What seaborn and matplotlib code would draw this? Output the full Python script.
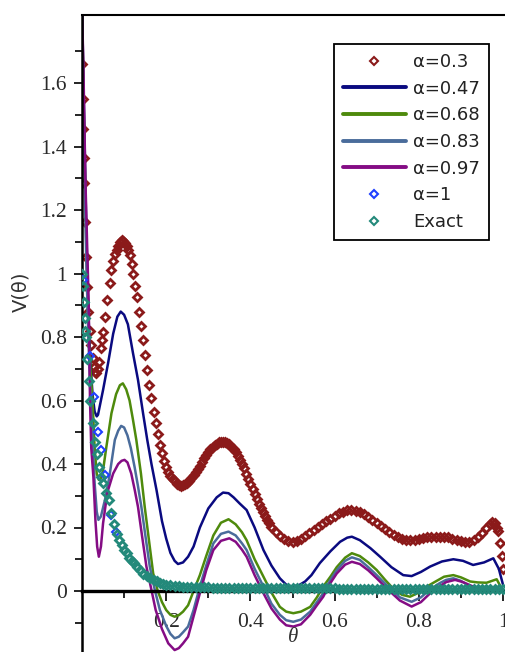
import matplotlib
matplotlib.use("Agg")
import numpy as np
import pandas as pd
import seaborn as sns
import matplotlib.pyplot as plt
from matplotlib.lines import Line2D
from matplotlib.ticker import FixedLocator, FuncFormatter

sns.set_style("white")
plt.rcParams["font.family"] = ["DejaVu Sans"]

# ---------------- data ----------------
labels = ["α=0.3", "α=0.47", "α=0.68", "α=0.83", "α=0.97", "α=1", "Exact"]
colors = ["#8B1A1A", "#0A0A80", "#4E8A0C", "#4A6C9B", "#840C84", "#1F3FFF", "#23897A"]

# alpha = 0.3 (markers)
a03_x = [0.001, 0.002, 0.003, 0.004, 0.005, 0.007, 0.009, 0.011, 0.014, 0.018, 0.022, 0.026,
         0.029, 0.031, 0.034, 0.037, 0.04, 0.044, 0.048, 0.051, 0.055, 0.06, 0.066, 0.07,
         0.074, 0.078, 0.082, 0.086, 0.09, 0.094, 0.098, 0.102, 0.106, 0.11, 0.114, 0.118,
         0.122, 0.127, 0.131, 0.135, 0.14, 0.145, 0.15, 0.155, 0.16, 0.165, 0.17, 0.175,
         0.18, 0.185, 0.19, 0.195, 0.2, 0.205, 0.21, 0.215, 0.22, 0.225, 0.23, 0.235, 0.24,
         0.245, 0.25, 0.255, 0.26, 0.265, 0.27, 0.275, 0.28, 0.285, 0.29, 0.295, 0.3, 0.305,
         0.31, 0.315, 0.32, 0.325, 0.33, 0.335, 0.34, 0.345, 0.35, 0.355, 0.36, 0.365, 0.37,
         0.375, 0.38, 0.385, 0.39, 0.395, 0.4, 0.405, 0.41, 0.415, 0.42, 0.425, 0.43, 0.435,
         0.44, 0.445, 0.45, 0.46, 0.47, 0.48, 0.49, 0.5, 0.51, 0.52, 0.53, 0.54, 0.55, 0.56,
         0.57, 0.58, 0.59, 0.6, 0.61, 0.62, 0.63, 0.64, 0.65, 0.66, 0.67, 0.68, 0.69, 0.7,
         0.71, 0.72, 0.73, 0.74, 0.75, 0.76, 0.77, 0.78, 0.79, 0.8, 0.81, 0.82, 0.83, 0.84,
         0.85, 0.86, 0.87, 0.88, 0.89, 0.9, 0.91, 0.92, 0.93, 0.94, 0.95, 0.96, 0.97, 0.975,
         0.98, 0.985, 0.989, 0.993, 0.997, 1.0]
a03_y = [1.66, 1.55, 1.455, 1.364, 1.285, 1.162, 1.052, 0.957, 0.88, 0.82, 0.775, 0.735,
         0.705, 0.69, 0.688, 0.7, 0.72, 0.764, 0.79, 0.817, 0.864, 0.917, 0.97, 1.01,
         1.04, 1.06, 1.074, 1.088, 1.1, 1.105, 1.103, 1.097, 1.087, 1.074, 1.058, 1.03,
         1.0, 0.96, 0.927, 0.88, 0.835, 0.79, 0.743, 0.696, 0.65, 0.607, 0.565, 0.528,
         0.494, 0.46, 0.434, 0.41, 0.39, 0.375, 0.362, 0.352, 0.345, 0.338, 0.334, 0.332, 0.333,
         0.336, 0.34, 0.347, 0.355, 0.365, 0.375, 0.385, 0.395, 0.407, 0.418, 0.428, 0.438, 0.446,
         0.453, 0.459, 0.464, 0.468, 0.47, 0.47, 0.469, 0.466, 0.462, 0.455, 0.447, 0.437, 0.426,
         0.413, 0.4, 0.386, 0.37, 0.353, 0.336, 0.32, 0.304, 0.29, 0.275, 0.261, 0.248, 0.236,
         0.224, 0.213, 0.203, 0.186, 0.172, 0.163, 0.157, 0.155, 0.157, 0.163, 0.172, 0.183, 0.193, 0.203,
         0.212, 0.22, 0.228, 0.237, 0.245, 0.25, 0.254, 0.255, 0.253, 0.248, 0.241, 0.233, 0.225, 0.215,
         0.205, 0.195, 0.185, 0.176, 0.17, 0.165, 0.162, 0.161, 0.162, 0.165, 0.168, 0.17, 0.171, 0.171,
         0.171, 0.171, 0.169, 0.165, 0.16, 0.156, 0.154, 0.155, 0.16, 0.17, 0.183, 0.198, 0.212, 0.218,
         0.214, 0.2, 0.19, 0.15, 0.11, 0.07]

# alpha = 0.47 (line)
a047_x = [0, 0.005, 0.01, 0.015, 0.02, 0.025, 0.03, 0.035, 0.038, 0.05, 0.062, 0.074, 0.084,
          0.092, 0.1, 0.109, 0.121, 0.133, 0.145, 0.155, 0.165, 0.177, 0.19, 0.2, 0.21, 0.22,
          0.228, 0.24, 0.252, 0.265, 0.28, 0.3, 0.32, 0.335, 0.348, 0.36, 0.375, 0.391, 0.41,
          0.431, 0.45, 0.47, 0.485, 0.498, 0.515, 0.53, 0.545, 0.565, 0.59, 0.613, 0.63, 0.641,
          0.66, 0.685, 0.708, 0.735, 0.763, 0.783, 0.805, 0.827, 0.855, 0.882, 0.905, 0.929,
          0.955, 0.977, 0.99, 1.0]
a047_y = [1.85, 1.5, 1.15, 0.88, 0.72, 0.62, 0.565, 0.55, 0.555, 0.633, 0.718, 0.81, 0.864,
          0.88, 0.87, 0.84, 0.75, 0.665, 0.56, 0.476, 0.4, 0.318, 0.22, 0.165, 0.12, 0.095,
          0.085, 0.09, 0.108, 0.14, 0.2, 0.26, 0.295, 0.31, 0.308, 0.295, 0.275, 0.255, 0.2,
          0.129, 0.08, 0.04, 0.02, 0.014, 0.018, 0.03, 0.05, 0.088, 0.125, 0.155, 0.168, 0.171,
          0.16, 0.135, 0.108, 0.075, 0.05, 0.047, 0.06, 0.077, 0.093, 0.1, 0.095, 0.082,
          0.09, 0.103, 0.07, 0.02]

# alpha = 0.68 (line)
a068_x = [0, 0.005, 0.01, 0.015, 0.02, 0.025, 0.03, 0.035, 0.04, 0.045, 0.05, 0.058, 0.07,
          0.081, 0.09, 0.097, 0.105, 0.113, 0.121, 0.129, 0.14, 0.149, 0.16, 0.169, 0.18,
          0.19, 0.2, 0.21, 0.22, 0.23, 0.24, 0.252, 0.265, 0.28, 0.295, 0.312, 0.33, 0.348,
          0.365, 0.38, 0.391, 0.41, 0.431, 0.45, 0.47, 0.485, 0.502, 0.52, 0.542, 0.558,
          0.573, 0.59, 0.605, 0.625, 0.641, 0.66, 0.68, 0.7, 0.72, 0.739, 0.76, 0.779, 0.8,
          0.819, 0.84, 0.86, 0.882, 0.9, 0.922, 0.94, 0.961, 0.985, 1.0]
a068_y = [1.85, 1.45, 1.1, 0.85, 0.7, 0.6, 0.45, 0.37, 0.35, 0.355, 0.38, 0.455, 0.56,
          0.62, 0.648, 0.654, 0.635, 0.6, 0.54, 0.476, 0.37, 0.265, 0.15, 0.056, 0.0,
          -0.035, -0.06, -0.075, -0.081, -0.076, -0.065, -0.045, 0.0, 0.05, 0.11, 0.175, 0.215, 0.226,
          0.21, 0.185, 0.16, 0.1, 0.045, -0.005, -0.05, -0.065, -0.07, -0.065, -0.05, -0.02,
          0.014, 0.045, 0.075, 0.105, 0.119, 0.11, 0.09, 0.066, 0.035, 0.008, -0.012, -0.018, -0.005,
          0.014, 0.03, 0.045, 0.05, 0.043, 0.03, 0.027, 0.026, 0.037, 0.0]

# alpha = 0.83 (line)
a083_x = [0, 0.005, 0.01, 0.015, 0.02, 0.025, 0.03, 0.035, 0.039, 0.045, 0.055, 0.065, 0.078,
          0.086, 0.093, 0.1, 0.108, 0.116, 0.125, 0.133, 0.141, 0.151, 0.161, 0.173, 0.185,
          0.2, 0.21, 0.22, 0.23, 0.24, 0.252, 0.265, 0.28, 0.295, 0.312, 0.33, 0.348, 0.365,
          0.38, 0.391, 0.41, 0.431, 0.45, 0.47, 0.485, 0.502, 0.52, 0.542, 0.558, 0.573, 0.59,
          0.605, 0.625, 0.641, 0.66, 0.68, 0.7, 0.715, 0.732, 0.755, 0.783, 0.805, 0.827, 0.85,
          0.865, 0.882, 0.9, 0.92, 0.94, 0.96, 0.98, 1.0]
a083_y = [1.85, 1.4, 1.05, 0.8, 0.62, 0.48, 0.34, 0.25, 0.224, 0.235, 0.29, 0.36, 0.476,
          0.505, 0.52, 0.515, 0.49, 0.45, 0.39, 0.33, 0.265, 0.17, 0.077, 0.003, -0.06,
          -0.11, -0.135, -0.149, -0.144, -0.13, -0.112, -0.06, 0.014, 0.08, 0.15, 0.18, 0.187, 0.175,
          0.15, 0.129, 0.07, 0.014, -0.04, -0.075, -0.092, -0.097, -0.09, -0.065, -0.035, -0.007, 0.035,
          0.065, 0.095, 0.106, 0.098, 0.075, 0.05, 0.03, 0.008, -0.02, -0.034, -0.02, 0.005, 0.025,
          0.035, 0.04, 0.032, 0.015, 0.008, 0.008, 0.012, 0.0]

# alpha = 0.97 (line)
a097_x = [0, 0.004, 0.008, 0.012, 0.016, 0.019, 0.022, 0.027, 0.032, 0.036, 0.04, 0.045, 0.05,
          0.056, 0.062, 0.074, 0.086, 0.094, 0.101, 0.108, 0.117, 0.125, 0.133, 0.143, 0.153,
          0.165, 0.175, 0.19, 0.205, 0.22, 0.23, 0.24, 0.252, 0.265, 0.28, 0.295, 0.312, 0.33,
          0.35, 0.365, 0.38, 0.391, 0.41, 0.431, 0.45, 0.47, 0.485, 0.502, 0.52, 0.542, 0.558,
          0.573, 0.59, 0.605, 0.625, 0.641, 0.66, 0.68, 0.7, 0.715, 0.732, 0.755, 0.783, 0.805,
          0.827, 0.85, 0.865, 0.886, 0.905, 0.929, 0.95, 0.97, 1.0]
a097_y = [1.85, 1.6, 1.3, 1.1, 0.9, 0.6, 0.45, 0.36, 0.22, 0.14, 0.108, 0.14, 0.213,
          0.27, 0.318, 0.37, 0.4, 0.41, 0.413, 0.405, 0.37, 0.32, 0.265, 0.17, 0.077,
          0.003, -0.06, -0.12, -0.165, -0.186, -0.18, -0.165, -0.144, -0.08, -0.007, 0.065, 0.129, 0.158,
          0.166, 0.155, 0.13, 0.108, 0.05, -0.007, -0.055, -0.09, -0.108, -0.112, -0.105, -0.075, -0.045,
          -0.018, 0.025, 0.055, 0.083, 0.092, 0.085, 0.065, 0.04, 0.02, -0.002, -0.03, -0.049, -0.035,
          -0.007, 0.015, 0.028, 0.035, 0.028, 0.014, 0.006, 0.005, 0.0]

# alpha = 1 (markers)
a1_x = [0.002, 0.019, 0.029, 0.037, 0.046, 0.054, 0.07, 0.081]
a1_y = [0.98, 0.74, 0.61, 0.50, 0.444, 0.365, 0.24, 0.187]

# exact (markers)
ex_x = [0, 0.002, 0.004, 0.006, 0.008, 0.01, 0.013, 0.017, 0.02, 0.025, 0.03, 0.035, 0.04,
        0.045, 0.05, 0.057, 0.063, 0.07, 0.076, 0.082, 0.088, 0.094, 0.1, 0.106, 0.112, 0.118,
        0.124, 0.13, 0.138, 0.146, 0.154, 0.162, 0.17, 0.177, 0.185, 0.193, 0.2, 0.21, 0.22,
        0.23, 0.24, 0.25, 0.26, 0.27, 0.28, 0.29, 0.3, 0.31, 0.32, 0.33, 0.34, 0.35, 0.36,
        0.37, 0.38, 0.39, 0.4, 0.41, 0.42, 0.43, 0.44, 0.45, 0.46, 0.47, 0.48, 0.49, 0.5,
        0.51, 0.52, 0.53, 0.54, 0.55, 0.56, 0.57, 0.58, 0.59, 0.6, 0.61, 0.62, 0.63, 0.64,
        0.65, 0.66, 0.67, 0.68, 0.69, 0.7, 0.71, 0.72, 0.73, 0.74, 0.75, 0.76, 0.77, 0.78,
        0.79, 0.8, 0.81, 0.82, 0.83, 0.84, 0.85, 0.86, 0.87, 0.88, 0.89, 0.9, 0.91, 0.92,
        0.93, 0.94, 0.95, 0.96, 0.97, 0.98, 0.99, 1.0]
ex_y = [1.0, 0.96, 0.91, 0.86, 0.82, 0.8, 0.73, 0.66, 0.6, 0.53, 0.47, 0.43, 0.39,
        0.36, 0.34, 0.31, 0.287, 0.245, 0.21, 0.18, 0.16, 0.145, 0.13, 0.12, 0.105, 0.095,
        0.087, 0.077, 0.066, 0.055, 0.047, 0.04, 0.034, 0.03, 0.026, 0.023, 0.02, 0.018, 0.016,
        0.015, 0.014, 0.014, 0.013, 0.013, 0.012, 0.012, 0.012, 0.011, 0.011, 0.011, 0.011, 0.01, 0.01,
        0.01, 0.01, 0.01, 0.01, 0.009, 0.009, 0.009, 0.009, 0.009, 0.009, 0.009, 0.009, 0.009, 0.008,
        0.008, 0.008, 0.008, 0.008, 0.008, 0.008, 0.008, 0.008, 0.008, 0.008, 0.007, 0.007, 0.007, 0.007,
        0.007, 0.007, 0.007, 0.007, 0.007, 0.007, 0.007, 0.007, 0.007, 0.007, 0.006, 0.006, 0.006, 0.006,
        0.006, 0.006, 0.006, 0.006, 0.006, 0.006, 0.006, 0.006, 0.006, 0.006, 0.006, 0.006, 0.006, 0.006,
        0.006, 0.006, 0.006, 0.006, 0.006, 0.006, 0.006, 0.006]

y_major = [0, 0.2, 0.4, 0.6, 0.8, 1.0, 1.2, 1.4, 1.6]
y_minor = [-0.1, 0.1, 0.3, 0.5, 0.7, 0.9, 1.1, 1.3, 1.5, 1.7]
x_major = [0.2, 0.4, 0.6, 0.8, 1.0]
x_minor = [0.1, 0.3, 0.5, 0.7, 0.9]

# ---------------- figure ----------------
W, H = 505, 652
fig = plt.figure(figsize=(W / 100, H / 100), dpi=100)
ax = fig.add_axes([82 / W, 0, 423 / W, 637 / H])

line_df = pd.concat([
    pd.DataFrame({"theta": a047_x, "V": a047_y, "series": labels[1]}),
    pd.DataFrame({"theta": a068_x, "V": a068_y, "series": labels[2]}),
    pd.DataFrame({"theta": a083_x, "V": a083_y, "series": labels[3]}),
    pd.DataFrame({"theta": a097_x, "V": a097_y, "series": labels[4]}),
], ignore_index=True)

MS, MEW = 4.2, 2.0
mk = dict(marker="D", markersize=MS, markeredgewidth=MEW, markerfacecolor="none",
          linestyle="", estimator=None, sort=False, legend=False)

sns.lineplot(x=a03_x, y=a03_y, ax=ax, color=colors[0], markeredgecolor=colors[0], zorder=2, **mk)
sns.lineplot(data=line_df, x="theta", y="V", hue="series", hue_order=labels[1:5],
             palette=colors[1:5], estimator=None, sort=False, legend=False,
             linewidth=1.8, ax=ax, zorder=2.2)
sns.lineplot(x=a1_x, y=a1_y, ax=ax, color=colors[5], markeredgecolor=colors[5], zorder=3,
             marker="D", markersize=4.0, markeredgewidth=1.5, markerfacecolor="none",
             linestyle="", estimator=None, sort=False, legend=False)
sns.lineplot(x=ex_x, y=ex_y, ax=ax, color=colors[6], markeredgecolor=colors[6], zorder=3.1, **mk)

ax.set_xlim(0, 423 / 421)
ax.set_ylim(-61 / 317.5, 576 / 317.5)

# spines: Maple style crossing axes
ax.spines["right"].set_visible(False)
ax.spines["bottom"].set_position(("data", 0))
for s in ["left", "bottom", "top"]:
    ax.spines[s].set_color("black")
ax.spines["left"].set_linewidth(1.8)
ax.spines["bottom"].set_linewidth(2.4)
ax.spines["top"].set_linewidth(1.5)
ax.grid(False)

ax.xaxis.set_major_locator(FixedLocator(x_major))
ax.xaxis.set_minor_locator(FixedLocator(x_minor))
ax.yaxis.set_major_locator(FixedLocator(y_major))
ax.yaxis.set_minor_locator(FixedLocator(y_minor))
fmt = FuncFormatter(lambda v, p: "%g" % round(v, 6))
ax.xaxis.set_major_formatter(fmt)
ax.yaxis.set_major_formatter(fmt)

ax.tick_params(axis="both", which="both", direction="out", color="black",
               bottom=True, left=True, top=False, right=False)
ax.tick_params(axis="y", which="major", length=6, width=1.2, pad=5, labelcolor="#2a2a2a")
ax.tick_params(axis="y", which="minor", length=5, width=1.2)
ax.tick_params(axis="x", which="major", length=7, width=1.2, pad=9, labelcolor="#2a2a2a")
ax.tick_params(axis="x", which="minor", length=5, width=1.2)
for lab in ax.get_xticklabels() + ax.get_yticklabels():
    lab.set_fontfamily("Liberation Serif")
    lab.set_fontsize(15.5)

ax.set_xlabel("")
ax.set_ylabel("V(θ)", fontsize=14, color="#333333", va="center")
ax.yaxis.set_label_coords(-0.144, 0.565)
ax.text(0.501, -0.145, "θ", transform=ax.transData, ha="center", va="center",
        fontsize=15, fontstyle="italic", family="Liberation Serif", color="#333333")

def mhandle(c):
    return Line2D([], [], linestyle="", marker="D", markersize=4.0, markeredgewidth=1.5,
                  markerfacecolor="none", markeredgecolor=c)

handles = [mhandle(colors[0])] + \
          [Line2D([], [], color=c, linewidth=2.8) for c in colors[1:5]] + \
          [mhandle(colors[5]), mhandle(colors[6])]
leg = ax.legend(handles, labels, loc="upper right",
                bbox_to_anchor=((489 - 82) / 423, (652 - 44) / 637),
                borderaxespad=0, fontsize=13, frameon=True, fancybox=False,
                edgecolor="black", framealpha=1, handlelength=3.5, handletextpad=0.4,
                labelspacing=0.48, borderpad=0.5)
leg.get_frame().set_linewidth(1.3)
for t in leg.get_texts():
    t.set_color("#222222")

fig.savefig("out.png", dpi=100)
